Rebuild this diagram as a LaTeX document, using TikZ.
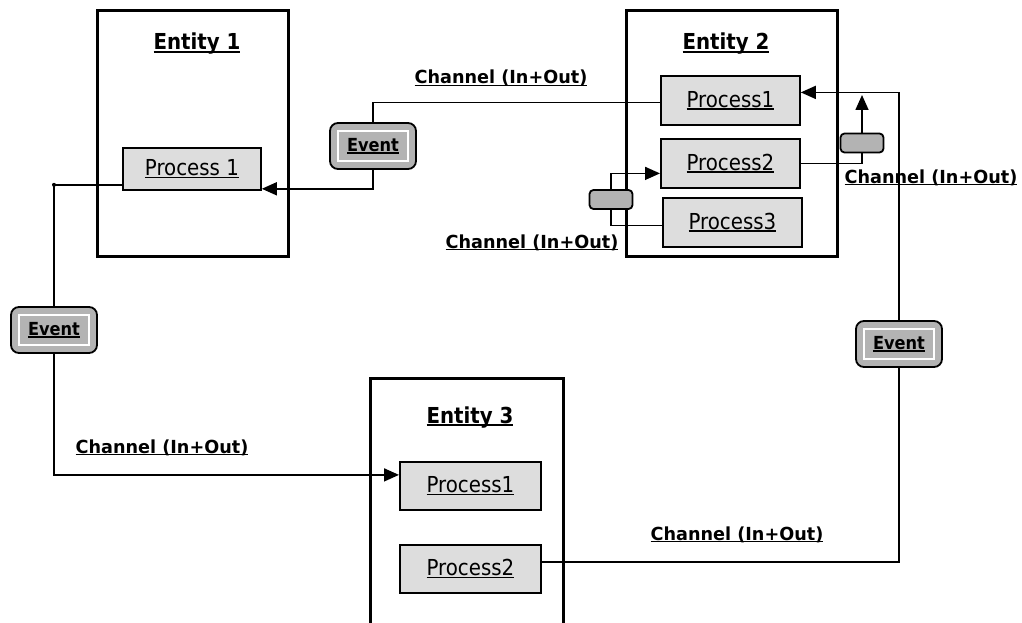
\documentclass[tikz,border=0pt]{standalone}
\usepackage{fontspec}
\setmainfont{DejaVu Sans}[FakeStretch=0.9]
\newfontfamily\labelfamily{DejaVu Sans}[FakeStretch=0.98]
\usetikzlibrary{arrows.meta}

\definecolor{procfill}{HTML}{DDDDDD}
\definecolor{evfill}{HTML}{B3B3B3}

% underline sitting just below the baseline
\newcommand\ulin[1]{\sbox0{#1}\rlap{\rule[-0.12em]{\wd0}{0.075em}}\usebox0}
\newcommand\bigfont{\fontsize{22}{26}\selectfont}
\newcommand\smallbold{\fontsize{18}{22}\selectfont\bfseries}

\tikzset{
  entity/.style={draw, line width=2.8pt, inner sep=0pt, anchor=north west},
  proc/.style={draw, line width=1.8pt, fill=procfill, inner sep=0pt,
    anchor=north west, minimum width=139pt, minimum height=49pt, font=\bigfont},
  entitytitle/.style={anchor=base, inner sep=0pt, font=\bigfont\bfseries},
  event/.style={draw, line width=1.8pt, fill=evfill, rounded corners=8pt,
    minimum width=86pt, minimum height=46pt, inner sep=0pt, font=\smallbold,
    path picture={\draw[white, line width=1.4pt, sharp corners]
      ([shift={(8pt,-8pt)}]path picture bounding box.north west) rectangle
      ([shift={(-8pt,8pt)}]path picture bounding box.south east);}},
  chan/.style={draw, line width=1.8pt, fill=evfill, rounded corners=4pt,
    minimum width=43pt, minimum height=19pt, inner sep=0pt},
  chlabel/.style={anchor=base, inner sep=0pt, font=\labelfamily\smallbold},
  wire/.style={line width=1.6pt},
  arr/.style={wire, -{Triangle[length=15pt,width=13pt]}},
}

\begin{document}
\begin{tikzpicture}[x=1pt, y=-1pt]
\useasboundingbox (0,0) rectangle (1022,623);
\clip (0,0) rectangle (1022,623);

% entities
\node[entity, minimum width=191pt, minimum height=246pt] (ent1) at (96,9) {};
\node[entity, minimum width=211pt, minimum height=246pt] (ent2) at (625,9) {};
\node[entity, minimum width=193pt, minimum height=280pt] (ent3) at (369,377) {};

\node[entitytitle] (t1) at (197,50) {\ulin{Entity 1}};
\node[entitytitle] (t2) at (726,50) {\ulin{Entity 2}};
\node[entitytitle] (t3) at (470,423) {\ulin{Entity 3}};

% processes
\node[proc, minimum width=138pt, minimum height=42pt] (p1a) at (122,147) {\ulin{Process 1}};
\node[proc] (e2p1) at (660,75) {\ulin{Process1}};
\node[proc] (e2p2) at (660,138) {\ulin{Process2}};
\node[proc] (e2p3) at (662,197) {\ulin{Process3}};
\node[proc, minimum width=141pt, minimum height=48pt] (e3p1) at (399,461) {\ulin{Process1}};
\node[proc, minimum width=141pt, minimum height=48pt] (e3p2) at (399,544) {\ulin{Process2}};

% events
\node[event] (evA) at (373,146) {\ulin{Event}};
\node[event] (evB) at (54,330) {\ulin{Event}};
\node[event] (evC) at (899,344) {\ulin{Event}};

% small channel blocks
\node[chan] (chR) at (862,143) {};
\node[chan] (chL) at (611,199.5) {};

% channel labels
\node[chlabel] (lab1) at (501,84) {\ulin{Channel (In+Out)}};
\node[chlabel] (lab2) at (532,248) {\ulin{Channel (In+Out)}};
\node[chlabel] (lab3) at (931,183) {\ulin{Channel (In+Out)}};
\node[chlabel] (lab4) at (162,453) {\ulin{Channel (In+Out)}};
\node[chlabel] (lab5) at (737,540) {\ulin{Channel (In+Out)}};

% Entity 2 / Process1 <-> Entity 1 / Process 1
\draw[wire] ([yshift=-2pt]e2p1.west) -| (evA.north);
\draw[arr] (evA.south) |- ([yshift=2pt]p1a.south east);

% Entity 1 / Process 1 <-> Entity 3 / Process1
\coordinate (p1aout) at ([yshift=6pt]p1a.south west);
\coordinate (jA) at (p1aout -| evB.north);
\draw[wire] (p1aout) -- (jA) -- (evB.north);
\fill (jA) circle (2pt);
\draw[arr] (evB.south) |- ([yshift=11pt]e3p1.west);

% Entity 3 / Process2 <-> Entity 2 / Process1
\draw[wire] ([yshift=7pt]e3p2.east) -| (evC.south);
\draw[arr] (evC.north) |- ([yshift=8pt]e2p1.east);

% internal channels of Entity 2
\draw[wire] (e2p2.east) -| (chR.south);
\coordinate (chRtip) at (862,95);
\draw[arr] (chR.north) -- (chRtip);
\draw[wire] ([yshift=-3pt]e2p3.west) -| (chL.south);
\draw[arr] (chL.north) |- ([yshift=-10pt]e2p2.west);
\end{tikzpicture}
\end{document}
